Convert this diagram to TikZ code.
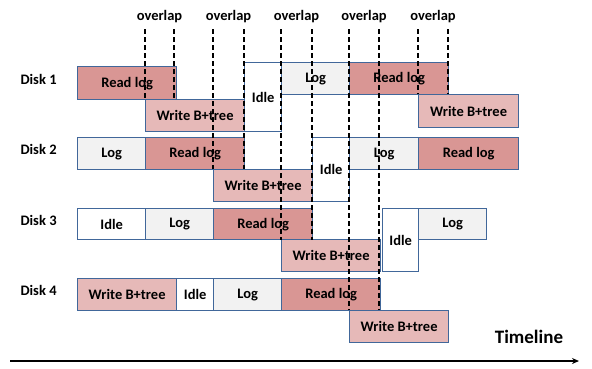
\documentclass[tikz,border=0pt]{standalone}
\usepackage{fontspec}
\setmainfont{Carlito}
\usetikzlibrary{arrows.meta}
\definecolor{readc}{HTML}{D99694}
\definecolor{writec}{HTML}{E6B9B8}
\definecolor{logc}{HTML}{F2F2F2}
\definecolor{edgec}{HTML}{41679A}
\tikzset{
  x=1pt, y=-1pt,
  txt/.style={font=\fontsize{14.5}{16}\selectfont\bfseries},
  box/.style={draw=edgec, line width=1.3pt, txt, inner sep=0pt, anchor=north west},
  readbox/.style={box, fill=readc},
  writebox/.style={box, fill=writec},
  logbox/.style={box, fill=logc},
  idlebox/.style={box, fill=white},
  ovl/.style={draw=black, line width=1.3pt, dash pattern=on 5pt off 3pt},
  disklabel/.style={txt, anchor=west},
}
% box from (left,top) with width and height
\newcommand{\seg}[7]{%
  \node[#1, minimum width=#4pt, minimum height=#5pt] (#2) at (#3) {#6};}
\begin{document}
\begin{tikzpicture}
\useasboundingbox (0,0) rectangle (592,368);

% disk labels
\node[disklabel] (d1) at (17,79)  {Disk 1};
\node[disklabel] (d2) at (17,149) {Disk 2};
\node[disklabel] (d3) at (17,220) {Disk 3};
\node[disklabel] (d4) at (17,290) {Disk 4};

% Disk 1
\seg{readbox}{a1}{77,66}{99}{33}{Read log}{}
\seg{writebox}{a2}{145,99}{99}{32}{Write B+tree}{}
\seg{idlebox}{a3}{244,62}{37}{69}{Idle}{}
\seg{logbox}{a4}{281,62}{68}{32}{Log}{}
\seg{readbox}{a5}{349,62}{99}{32}{Read log}{}
\seg{writebox}{a6}{418,94}{100}{33}{Write B+tree}{}

% Disk 2
\seg{logbox}{b1}{77,137}{68}{32}{Log}{}
\seg{readbox}{b2}{145,137}{99}{32}{Read log}{}
\seg{writebox}{b3}{213,169}{99}{32}{Write B+tree}{}
\seg{idlebox}{b4}{312,137}{37}{64}{Idle}{}
\seg{logbox}{b5}{349,137}{69}{32}{Log}{}
\seg{readbox}{b6}{418,137}{100}{32}{Read log}{}

% Disk 3
\seg{idlebox}{c1}{77,208}{68}{31}{Idle}{}
\seg{logbox}{c2}{145,208}{68}{31}{Log}{}
\seg{readbox}{c3}{213,208}{99}{31}{Read log}{}
\seg{writebox}{c4}{281,239}{99}{32}{Write B+tree}{}
\seg{idlebox}{c5}{382,208}{36}{63}{Idle}{}
\seg{logbox}{c6}{418,208}{68}{31}{Log}{}

% Disk 4
\seg{writebox}{e1}{77,278}{99}{32}{Write B+tree}{}
\seg{idlebox}{e2}{176,278}{37}{32}{Idle}{}
\seg{logbox}{e3}{213,278}{68}{32}{Log}{}
\seg{readbox}{e4}{281,278}{99}{32}{Read log}{}
\seg{writebox}{e5}{349,310}{99}{32}{Write B+tree}{}

% overlap markers: label, two dashed guides down to the overlapping boxes
\foreach \i/\xa/\xb/\yb in {1/145/174/99, 2/213/244/169, 3/281/312/240, 4/349/379/310, 5/418/448/94}{
  \node[txt] (ov\i) at ({(\xa+\xb)/2},17) {overlap};
  \coordinate (ov\i la) at (\xa,29);
  \coordinate (ov\i lb) at (\xa,\yb);
  \coordinate (ov\i ra) at (\xb,29);
  \coordinate (ov\i rb) at (\xb,\yb);
  \draw[ovl] (ov\i la) -- (ov\i lb);
  \draw[ovl] (ov\i ra) -- (ov\i rb);
}

% time axis
\node[font=\fontsize{19}{22}\selectfont\bfseries] (tl) at (529,337) {Timeline};
\coordinate (t0) at (10,361);
\coordinate (t1) at (579,361);
\draw[line width=1.4pt, -{Stealth[length=7pt,width=6pt]}] (t0) -- (t1);
\end{tikzpicture}
\end{document}
